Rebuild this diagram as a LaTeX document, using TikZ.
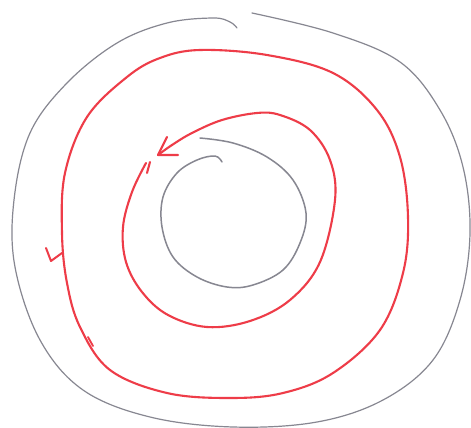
\documentclass[tikz,border=0pt]{standalone}
\begin{document}
\definecolor{pen}{RGB}{238,60,72}
\definecolor{pencil}{RGB}{135,135,145}
\tikzset{
  redline/.style={pen, line width=2.1pt, line cap=round, line join=round},
  grayline/.style={pencil, line width=1.2pt, line cap=round, line join=round}
}
\begin{tikzpicture}[x=1pt,y=-1pt]
\useasboundingbox (0,0) rectangle (471,428);
\fill[white] (0,0) rectangle (471,428);
% outer gray boundary (with gap at the top)
\draw[grayline] plot[smooth, tension=0.6] coordinates {
 (252,13) (333,33) (400,62) (440,110) (463,167) (470,233) (460,300)
 (433,360) (383,400) (317,422) (233,427) (150,417) (83,390) (40,340) (15,267)
 (14,200) (30,133) (67,83) (117,43) (167,23) (213,18) (230,22) (237,28)};
% inner gray boundary
\draw[grayline, line width=1.5pt] plot[smooth, tension=0.6] coordinates {
 (200,138) (233,143) (267,157) (293,180) (306,213) (300,243) (283,270) (253,285)
 (227,287) (197,277) (173,257) (162,227) (163,197) (177,173) (197,160) (215,156) (222,162)};
% outer red loop
\draw[redline] plot[smooth cycle, tension=0.6] coordinates {
 (200,50) (267,55) (333,73) (377,110) (400,157) (408,217) (403,273) (380,330)
 (333,373) (283,393) (230,398) (167,393) (110,370) (80,327) (67,283) (62,233)
 (65,173) (87,117) (127,77) (160,58)};
% marks on the outer red loop
\draw[redline, line width=2pt] (46,248) -- (51,261) -- (62,253);
\draw[redline, line width=1.8pt] (88,337) -- (93,346);
% inner red loop
\draw[redline] plot[smooth, tension=0.6] coordinates {
 (146,163) (132,192) (123,227) (126,262) (142,292) (168,315) (207,327) (250,321)
 (290,300) (320,262) (335,200) (330,160) (310,130) (280,115) (257,113) (222,120)
 (192,133) (172,145) (158,155)};
\draw[redline] (150,162) -- (147,173);
% arrowhead on inner loop
\draw[redline] (167,137) -- (158,155) -- (178,155);
\end{tikzpicture}
\end{document}
